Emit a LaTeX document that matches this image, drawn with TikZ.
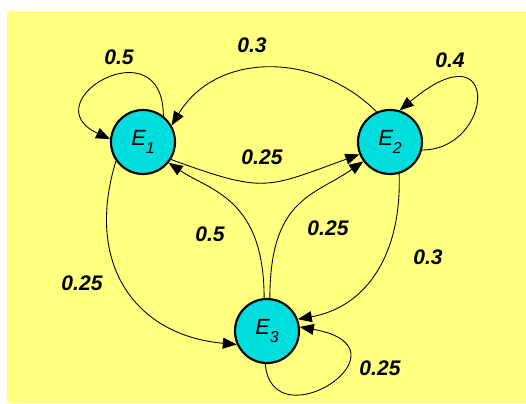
\documentclass[tikz,border=0pt]{standalone}
\usepackage{fontspec}
\setmainfont{Liberation Sans}
\usepackage{xcolor}
\usepackage{tikz}
\usetikzlibrary{arrows.meta}

\definecolor{bgyellow}{RGB}{255,255,128}
\definecolor{statecyan}{RGB}{0,221,221}

\newcommand{\stlabel}[1]{E\raisebox{-0.75ex}{\fontsize{9}{10}\selectfont #1}}

\begin{document}
\begin{tikzpicture}[
    >={Triangle[length=2.8mm,width=2.2mm]},
    state/.style ={circle, draw, line width=1.2pt, fill=statecyan, minimum size=1.28cm, inner sep=0pt, font=\itshape\fontsize{12.5}{14}\selectfont},
    trans/.style ={->, line width=0.5pt},
    prob/.style  ={font=\bfseries\itshape\fontsize{12}{14}\selectfont}
]

% --- Background ---
\useasboundingbox (0,0) rectangle (10.52,8.06);
\fill[bgyellow] (0.14,0) rectangle (10.52,7.84);

% --- States ---
\node[state] (e1) at (2.86, 5.22) {\stlabel{1}};
\node[state] (e2) at (7.80, 5.22) {\stlabel{2}};
\node[state] (e3) at (5.34, 1.44) {\stlabel{3}};

% --- Self loops ---
\draw[trans] (e1.52)  .. controls +(90:1.84) and +(155:1.76) .. (e1.175);
\draw[trans] (e2.-14) .. controls +(0:1.44)  and +(40:2.68)  .. (e2.73);
\draw[trans] (e3.-93) .. controls +(-85:1.6) and +(-10:2.4)  .. (e3.7);

% --- Transitions between states ---
\draw[trans] (e2.114) .. controls +(135:1.72) and +(59:1.72)  .. (e1.30);
\draw[trans] (e1.-32) .. controls +(-20:2)    and +(200:2)    .. (e2.-158);
\draw[trans] (e3.95)  .. controls +(90:2)     and +(-34:1)    .. (e1.-39);
\draw[trans] (e3.85)  .. controls +(90:2)     and +(215:1.2)  .. (e2.-144);
\draw[trans] (e1.215) .. controls +(-107:2.2) and +(175:2)    .. (e3.204);
\draw[trans] (e2.-74) .. controls +(-88:1.6)  and +(10:1.4)   .. (e3.21);

% --- Probabilities ---
\node[prob] (p11) at (2.38, 6.92) {0.5};
\node[prob] (p21) at (5.04, 7.16) {0.3};
\node[prob] (p22) at (9.00, 6.86) {0.4};
\node[prob] (p12) at (5.24, 4.92) {0.25};
\node[prob] (p31) at (4.20, 3.38) {0.5};
\node[prob] (p32) at (6.56, 3.50) {0.25};
\node[prob] (p13) at (1.64, 2.40) {0.25};
\node[prob] (p23) at (8.56, 2.92) {0.3};
\node[prob] (p33) at (7.60, 0.70) {0.25};

\end{tikzpicture}
\end{document}
